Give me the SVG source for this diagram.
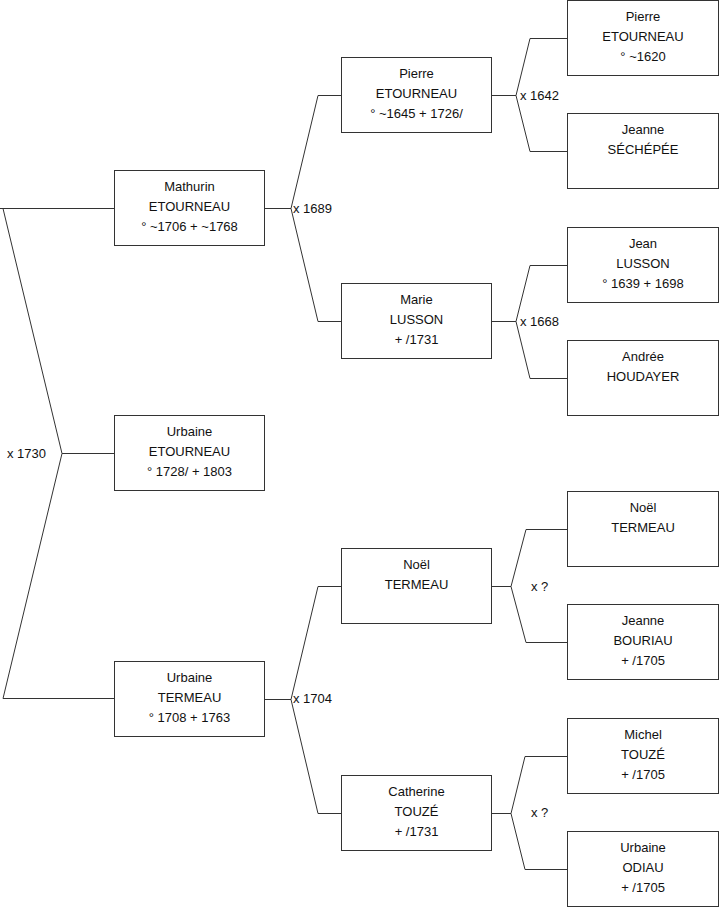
<svg xmlns="http://www.w3.org/2000/svg" width="719" height="908" viewBox="0 0 719 908">
<style>
.box{fill:#fff;stroke:#333;stroke-width:1}
.t{font-family:"Liberation Sans",Arial,sans-serif;font-size:13px;fill:#111;text-anchor:middle}
.l{font-family:"Liberation Sans",Arial,sans-serif;font-size:13px;fill:#111}
.c{fill:none;stroke:#333;stroke-width:1}
</style>
<rect width="719" height="908" fill="#fff"/>
<g id="connectors">
<path class="c" d="M0,208.5 H114 M3,208.5 L62,453.5 L3,698.5 H114 M62,453.5 H114"/>
<path class="c" d="M265,208.5 H291 M341,95.5 H318 L291,208.5 L318,321.5 H341"/>
<path class="c" d="M265,699.5 H291 M341,586.5 H318 L291,699.5 L318,813.5 H341"/>
<path class="c" d="M492,95.5 H516 M567,38.5 H530 L516,95.5 L530,151.5 H567"/>
<path class="c" d="M492,321.5 H516 M567,265.5 H530 L516,321.5 L530,378.5 H567"/>
<path class="c" d="M492,586.5 H511 M567,529.5 H526 L511,586.5 L526,642.5 H567"/>
<path class="c" d="M492,813.5 H511 M567,756.5 H525 L511,813.5 L525,869.5 H567"/>
<text class="l" x="7" y="458">x 1730</text>
<text class="l" x="293" y="213">x 1689</text>
<text class="l" x="293" y="703">x 1704</text>
<text class="l" x="520" y="100">x 1642</text>
<text class="l" x="520" y="326">x 1668</text>
<text class="l" x="531" y="591">x ?</text>
<text class="l" x="531" y="817">x ?</text>
</g>
<g id="mathurin"><rect class="box" x="114.5" y="170.5" width="150" height="75"/><text class="t" x="189.5" y="191">Mathurin</text><text class="t" x="189.5" y="211">ETOURNEAU</text><text class="t" x="189.5" y="231">° ~1706 + ~1768</text></g>
<g id="urbaine-e"><rect class="box" x="114.5" y="415.5" width="150" height="75"/><text class="t" x="189.5" y="436">Urbaine</text><text class="t" x="189.5" y="456">ETOURNEAU</text><text class="t" x="189.5" y="476">° 1728/ + 1803</text></g>
<g id="urbaine-t"><rect class="box" x="114.5" y="661.5" width="150" height="75"/><text class="t" x="189.5" y="682">Urbaine</text><text class="t" x="189.5" y="702">TERMEAU</text><text class="t" x="189.5" y="722">° 1708 + 1763</text></g>
<g id="pierre2"><rect class="box" x="341.5" y="57.5" width="150" height="75"/><text class="t" x="416.5" y="78">Pierre</text><text class="t" x="416.5" y="98">ETOURNEAU</text><text class="t" x="416.5" y="118">° ~1645 + 1726/</text></g>
<g id="marie"><rect class="box" x="341.5" y="283.5" width="150" height="75"/><text class="t" x="416.5" y="304">Marie</text><text class="t" x="416.5" y="324">LUSSON</text><text class="t" x="416.5" y="344">+ /1731</text></g>
<g id="noel2"><rect class="box" x="341.5" y="548.5" width="150" height="75"/><text class="t" x="416.5" y="569">Noël</text><text class="t" x="416.5" y="589">TERMEAU</text></g>
<g id="catherine"><rect class="box" x="341.5" y="775.5" width="150" height="75"/><text class="t" x="416.5" y="796">Catherine</text><text class="t" x="416.5" y="816">TOUZÉ</text><text class="t" x="416.5" y="836">+ /1731</text></g>
<g id="pierre3"><rect class="box" x="567.5" y="0.5" width="151" height="75"/><text class="t" x="643" y="21">Pierre</text><text class="t" x="643" y="41">ETOURNEAU</text><text class="t" x="643" y="61">° ~1620</text></g>
<g id="jeanne-s"><rect class="box" x="567.5" y="113.5" width="151" height="75"/><text class="t" x="643" y="134">Jeanne</text><text class="t" x="643" y="154">SÉCHÉPÉE</text></g>
<g id="jean"><rect class="box" x="567.5" y="227.5" width="151" height="75"/><text class="t" x="643" y="248">Jean</text><text class="t" x="643" y="268">LUSSON</text><text class="t" x="643" y="288">° 1639 + 1698</text></g>
<g id="andree"><rect class="box" x="567.5" y="340.5" width="151" height="75"/><text class="t" x="643" y="361">Andrée</text><text class="t" x="643" y="381">HOUDAYER</text></g>
<g id="noel3"><rect class="box" x="567.5" y="491.5" width="151" height="75"/><text class="t" x="643" y="512">Noël</text><text class="t" x="643" y="532">TERMEAU</text></g>
<g id="jeanne-b"><rect class="box" x="567.5" y="604.5" width="151" height="75"/><text class="t" x="643" y="625">Jeanne</text><text class="t" x="643" y="645">BOURIAU</text><text class="t" x="643" y="665">+ /1705</text></g>
<g id="michel"><rect class="box" x="567.5" y="718.5" width="151" height="75"/><text class="t" x="643" y="739">Michel</text><text class="t" x="643" y="759">TOUZÉ</text><text class="t" x="643" y="779">+ /1705</text></g>
<g id="urbaine-o"><rect class="box" x="567.5" y="831.5" width="151" height="75"/><text class="t" x="643" y="852">Urbaine</text><text class="t" x="643" y="872">ODIAU</text><text class="t" x="643" y="892">+ /1705</text></g>
</svg>
